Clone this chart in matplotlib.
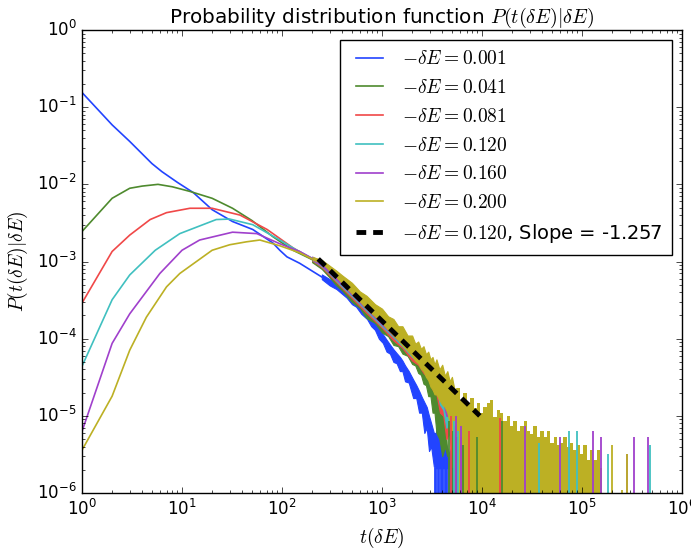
import numpy as np
import matplotlib
matplotlib.use("Agg")
import matplotlib.pyplot as plt

plt.style.use("classic")
plt.rcParams["axes.unicode_minus"] = False
plt.rcParams["mathtext.fontset"] = "cm"
plt.rcParams["lines.scale_dashes"] = False

floor = 1e-9  # stands in for empty bins on the log axis

labels = ["0.001", "0.041", "0.081", "0.120", "0.160", "0.200"]
colors = ["#2244ff", "#4e8a2e", "#f04848", "#40c0c0", "#a040cc", "#bcb024"]

# smooth head of each curve (integer t at the start)
t_blue = [1, 2, 3, 5, 6.3, 9, 13, 20, 32, 51, 81, 95, 112, 150, 250]
p_blue = [0.155, 0.059, 0.036, 0.0186, 0.0146, 0.0106, 0.0078, 0.0047, 0.0033, 0.0026,
          0.00174, 0.0014, 0.00115, 0.00095, 0.00063]
t_green = [1, 2, 3, 4, 5.75, 8, 12, 20, 32, 50, 81, 129, 200]
p_green = [0.00245, 0.0066, 0.0089, 0.0095, 0.0100, 0.0093, 0.0081, 0.0066, 0.0049, 0.0034,
           0.0021, 0.0014, 0.00106]
t_red = [1, 2, 3, 4.8, 7, 12, 20, 38, 71, 129, 200]
p_red = [2.9e-4, 1.35e-3, 2.2e-3, 3.5e-3, 4.3e-3, 4.9e-3, 4.9e-3, 4.0e-3, 2.6e-3, 1.5e-3, 1.08e-3]
t_cyan = [1, 2, 3, 5.4, 9.5, 22, 30, 51, 95, 141, 200]
p_cyan = [4.4e-5, 3.2e-4, 6.7e-4, 1.4e-3, 2.3e-3, 3.5e-3, 3.55e-3, 3.0e-3, 1.9e-3, 1.4e-3, 1.1e-3]
t_mag = [1, 2, 3, 6, 10, 15, 32, 56, 95, 150, 200]
p_mag = [6.3e-6, 8.7e-5, 2.1e-4, 7.0e-4, 1.4e-3, 1.9e-3, 2.4e-3, 2.3e-3, 1.7e-3, 1.35e-3, 1.1e-3]
t_yel = [1, 2, 3, 4.4, 7, 9.5, 20, 30, 44, 60, 95, 150, 200]
p_yel = [3.6e-6, 1.8e-5, 7.1e-5, 1.9e-4, 4.7e-4, 7.0e-4, 1.4e-3, 1.65e-3, 1.8e-3, 1.9e-3,
         1.6e-3, 1.3e-3, 1.08e-3]

# noisy body: lower / upper envelope
tb_blue = [250, 300, 350, 400, 443, 500, 550, 620, 708, 780, 850, 930, 1020, 1110, 1200, 1300,
           1400, 1510, 1600, 1700, 1850, 2050, 2200, 2350, 2500, 2650, 2800, 2950, 3100, 3300,
           3450, 3600, 3800, 4000, 4200, 4400, 4700, 5000, 5300, 5500]
hi_blue = [6.8e-4, 5.9e-4, 5.3e-4, 4.75e-4, 4.2e-4, 3.65e-4, 3.25e-4, 2.75e-4, 2.27e-4, 1.95e-4,
           1.68e-4, 1.4e-4, 1.14e-4, 9.7e-5, 8.4e-5, 7.3e-5, 6.5e-5, 5.8e-5, 5.2e-5, 4.5e-5,
           3.8e-5, 2.95e-5, 2.5e-5, 2.1e-5, 1.75e-5, 1.5e-5, 1.3e-5, 1.0e-5, 8e-6, 6e-6,
           6e-6, 8e-6, 5e-6, 4.2e-6, 5e-6, 4.2e-6, 3.2e-6, 4.2e-6, 3.2e-6, 2.1e-6]
lo_blue = [5.9e-4, 4.9e-4, 4.4e-4, 3.8e-4, 3.4e-4, 2.8e-4, 2.6e-4, 2.1e-4, 1.8e-4, 1.45e-4,
           1.3e-4, 1.0e-4, 8.8e-5, 6.8e-5, 6.4e-5, 5.0e-5, 4.8e-5, 3.8e-5, 3.8e-5, 2.8e-5,
           2.7e-5, 1.7e-5, 1.7e-5, 1.1e-5, 1.1e-5, 6e-6, 7e-6, 3.5e-6, 4e-6, 2.2e-6,
           2.1e-6, 2.1e-6, 2.1e-6, 2.1e-6, 2.1e-6, 2.1e-6, 2.1e-6, 2.1e-6, 2.1e-6, 2.1e-6]

tb_green = [200, 250, 300, 350, 400, 500, 600, 700, 850, 1000, 1150, 1300, 1450, 1600, 1800,
            2000, 2150, 2300, 2450, 2600, 2750, 2900, 3050, 3200, 3350, 3500, 3750, 4000, 4250, 4500]
hi_green = [1.1e-3, 9.2e-4, 7.3e-4, 6.0e-4, 5.0e-4, 3.8e-4, 3.0e-4, 2.45e-4, 1.95e-4, 1.58e-4,
            1.32e-4, 1.13e-4, 9.8e-5, 8.6e-5, 7.3e-5, 6.3e-5, 5.7e-5, 5.2e-5, 4.7e-5, 4.3e-5,
            3.9e-5, 3.5e-5, 3.2e-5, 2.9e-5, 2.6e-5, 2.3e-5, 1.9e-5, 1.6e-5, 1.3e-5, 3e-6]
lo_green = [9.8e-4, 8.0e-4, 6.2e-4, 4.9e-4, 4.2e-4, 3.0e-4, 2.5e-4, 1.85e-4, 1.6e-4, 1.2e-4,
            1.08e-4, 8.3e-5, 8.0e-5, 6.4e-5, 6.0e-5, 4.7e-5, 4.5e-5, 3.6e-5, 3.4e-5, 2.6e-5,
            2.5e-5, 1.8e-5, 1.8e-5, 1.1e-5, 1.1e-5, 6e-6, 5e-6, 3e-6, 4e-6, 3e-6]

tb_mid = [200, 250, 300, 400, 500, 700, 1000, 1300, 1600, 2000, 2300, 2600, 2900, 3200, 3500,
          3800, 4100, 4400, 4700, 5000]
hi_red = [1.12e-3, 9.5e-4, 7.5e-4, 5.2e-4, 3.95e-4, 2.6e-4, 1.66e-4, 1.2e-4, 9.2e-5, 6.9e-5,
          5.8e-5, 5.0e-5, 4.3e-5, 3.8e-5, 3.2e-5, 2.6e-5, 2.1e-5, 1.6e-5, 1.3e-5, 3e-6]
lo_red = [1.03e-3, 8.4e-4, 6.6e-4, 4.5e-4, 3.35e-4, 2.15e-4, 1.38e-4, 9.5e-5, 7.6e-5, 5.2e-5,
          4.6e-5, 3.6e-5, 3.1e-5, 2.2e-5, 1.9e-5, 1.1e-5, 1.0e-5, 5e-6, 6e-6, 3e-6]
hi_cyan = [1.14e-3, 9.8e-4, 7.8e-4, 5.5e-4, 4.15e-4, 2.75e-4, 1.76e-4, 1.27e-4, 9.8e-5, 7.4e-5,
           6.2e-5, 5.4e-5, 4.6e-5, 4.0e-5, 3.5e-5, 2.9e-5, 2.3e-5, 1.8e-5, 1.4e-5, 4e-6]
lo_cyan = [1.05e-3, 8.7e-4, 6.9e-4, 4.7e-4, 3.55e-4, 2.3e-4, 1.45e-4, 1.04e-4, 8.0e-5, 5.8e-5,
           4.9e-5, 4.0e-5, 3.4e-5, 2.6e-5, 2.2e-5, 1.4e-5, 1.2e-5, 7e-6, 8e-6, 4e-6]
hi_mag = [1.16e-3, 1.0e-3, 8.2e-4, 5.8e-4, 4.4e-4, 2.9e-4, 1.85e-4, 1.35e-4, 1.04e-4, 7.9e-5,
          6.6e-5, 5.7e-5, 4.9e-5, 4.3e-5, 3.8e-5, 3.2e-5, 2.6e-5, 2.1e-5, 1.7e-5, 5e-6]
lo_mag = [1.06e-3, 8.9e-4, 7.1e-4, 4.9e-4, 3.7e-4, 2.4e-4, 1.52e-4, 1.08e-4, 8.5e-5, 6.2e-5,
          5.2e-5, 4.3e-5, 3.7e-5, 2.9e-5, 2.5e-5, 1.7e-5, 1.5e-5, 1.0e-5, 1.0e-5, 5e-6]

tb_yel = [200, 250, 300, 350, 400, 500, 600, 700, 850, 1000, 1150, 1300, 1450, 1600, 1800, 2000,
          2150, 2300, 2450, 2600, 2750, 2900, 3050, 3200, 3350, 3500, 3750, 4000, 4250, 4500,
          4750, 5000, 5300, 5580]
hi_yel = [1.15e-3, 1.05e-3, 8.8e-4, 7.6e-4, 6.6e-4, 5.3e-4, 4.1e-4, 3.6e-4, 2.8e-4, 2.45e-4,
          1.95e-4, 1.8e-4, 1.45e-4, 1.45e-4, 1.1e-4, 1.1e-4, 8.6e-5, 9.2e-5, 7.4e-5, 8.0e-5,
          6.3e-5, 6.8e-5, 5.4e-5, 5.8e-5, 4.6e-5, 5.4e-5, 4.0e-5, 4.6e-5, 3.3e-5, 3.8e-5,
          2.8e-5, 3.2e-5, 2.2e-5, 2.3e-5]
lo_yel = [1.06e-3, 9.6e-4, 7.6e-4, 6.3e-4, 5.2e-4, 3.85e-4, 3.05e-4, 2.45e-4, 1.95e-4, 1.6e-4,
          1.3e-4, 1.1e-4, 9.6e-5, 8.2e-5, 7.0e-5, 6.0e-5, 5.2e-5, 4.8e-5, 4.1e-5, 3.8e-5,
          3.2e-5, 2.9e-5, 2.4e-5, 2.2e-5, 1.9e-5, 1.9e-5, 1.6e-5, 1.4e-5, 1.3e-5, 1.1e-5,
          8e-6, 5e-6, 0, 0]

# yellow far tail, histogram-like block (bin edges and bin tops)
edges_yel = [5580, 6030, 6520, 7050, 7600, 8240, 8900, 9550, 10300, 11150, 12000, 13000, 14000,
             15100, 16300, 17600, 19000, 20600, 22200, 24000, 26000, 28000, 30300, 32700, 35200,
             38000, 41200, 44600, 48200, 52000, 56000, 60300, 65200, 70500, 76000, 82000,
             88500, 95500, 103000, 111000, 120000, 130000, 140000, 151000, 159000]
top_yel = [2.3e-5, 1.6e-5, 2.0e-5, 1.45e-5, 1.7e-5, 1.25e-5, 1.45e-5, 1.09e-5, 1.3e-5, 1.45e-5,
           1.6e-5, 9.6e-6, 1.2e-5, 1.09e-5, 8.6e-6, 1.0e-5, 7.3e-6, 8.6e-6, 6.4e-6, 7.3e-6,
           8.6e-6, 6.4e-6, 5.9e-6, 7.3e-6, 5.3e-6, 6.3e-6, 5.3e-6, 6.3e-6, 4.4e-6, 5.3e-6,
           4.2e-6, 4.4e-6, 5.3e-6, 4.0e-6, 4.4e-6, 3.6e-6, 4.2e-6, 3.2e-6, 4.2e-6, 2.7e-6,
           3.6e-6, 2.7e-6, 3.6e-6, 2.1e-6]

# isolated spikes in the tails
spk_t = [
    [3350, 3500, 3600, 3700, 3850, 3950, 4100, 4250, 4350, 4500, 4650, 4800, 4950, 5100, 5300],
    [4700, 5100, 5600, 6400, 9000, 16000],
    [4900, 5400, 6200, 7400, 15000],
    [5200, 5700, 37000, 74000, 89000, 180000, 480000],
    [5500, 6100, 27000, 60000, 130000, 155000, 280000, 330000, 460000],
    [200000, 250000, 280000],
]
spk_v = [
    [2.1e-6] * 15,
    [8.5e-6, 6.4e-6, 5.3e-6, 4.2e-6, 5.3e-6, 8.5e-6],
    [1.0e-5, 7.4e-6, 5.3e-6, 6.4e-6, 9.5e-6],
    [8.5e-6, 6.4e-6, 4.4e-6, 6.4e-6, 6.4e-6, 3.2e-6, 4.2e-6],
    [1.0e-5, 7.4e-6, 7.3e-6, 5.3e-6, 6.4e-6, 5.3e-6, 3.2e-6, 5.3e-6, 5.3e-6],
    [4.2e-6, 1.1e-6, 3.2e-6],
]

# power-law fit for -dE = 0.120, end points
fit_t = [230, 9500]
fit_p = [1.08e-3, 1.0e-5]

heads = [(t_blue, p_blue), (t_green, p_green), (t_red, p_red), (t_cyan, p_cyan),
         (t_mag, p_mag), (t_yel, p_yel)]
bands = [(tb_blue, lo_blue, hi_blue), (tb_green, lo_green, hi_green), (tb_mid, lo_red, hi_red),
         (tb_mid, lo_cyan, hi_cyan), (tb_mid, lo_mag, hi_mag), (tb_yel, lo_yel, hi_yel)]

fig = plt.figure(figsize=(6.91, 5.5), dpi=100, facecolor="white")
ax = fig.add_axes([0.1187, 0.1036, 0.8683, 0.8418])
ax.set_xscale("log")
ax.set_yscale("log")

handles = []
for i in range(6):
    c = colors[i]
    t, p = heads[i]
    ln, = ax.plot(t, p, color=c, lw=1.2, label=r"$-\delta E=%s$" % labels[i])
    handles.append(ln)
    tb, lo, hi = bands[i]
    ax.fill_between(tb, np.maximum(lo, floor), hi, facecolor=c, edgecolor=c, lw=0.8)
    if i == 5:
        ax.stairs(top_yel, edges_yel, baseline=floor, fill=True, color=c)

for i in range(6):
    ax.vlines(spk_t[i], floor, spk_v[i], colors=colors[i], lw=1.3)

fl, = ax.plot(fit_t, fit_p, color="k", lw=3.5, dashes=(7, 5), zorder=5,
              label=r"$-\delta E=0.120$, Slope = -1.257")
handles.append(fl)

ax.set_xlim(1, 1e6)
ax.set_ylim(1e-6, 1)
ax.set_xlabel(r"$t(\delta E)$", fontsize=14)
ax.set_ylabel(r"$P(t(\delta E)|\delta E)$", fontsize=14)
ax.set_title(r"Probability distribution function $P(t(\delta E)|\delta E)$")
ax.legend(handles=handles, loc="upper right", fontsize=14, handlelength=2.0,
          handletextpad=0.7, labelspacing=0.5, borderpad=0.5)

fig.savefig("out.png", dpi=100, facecolor="white")
